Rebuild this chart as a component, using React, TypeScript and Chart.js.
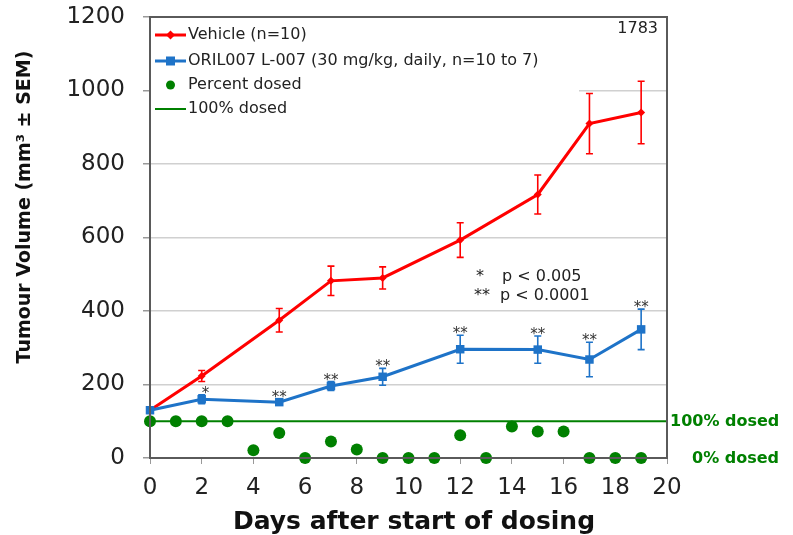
import { useEffect, useRef } from "react";
import { Chart, registerables } from "chart.js";

Chart.register(...registerables);

// ---- data ----
const days = [0, 2, 5, 7, 9, 12, 15, 17, 19];
const vehicle = [130, 223, 375, 482, 490, 593, 717, 910, 940];
const vehicleErr = [8, 15, 32, 40, 30, 47, 53, 82, 85];
const oril = [130, 160, 152, 196, 221, 296, 295, 268, 350];
const orilErr = [8, 12, 8, 12, 23, 38, 37, 47, 55];
const sigMarks = ["", "*", "**", "**", "**", "**", "**", "**", "**"];

const dosedDays = [0, 1, 2, 3, 4, 5, 6, 7, 8, 9, 10, 11, 12, 13, 14, 15, 16, 17, 18, 19];
const percentDosed = [100, 100, 100, 100, 21, 68, 0, 45, 23, 0, 0, 0, 62, 0, 86, 72, 72, 0, 0, 0];
const fullDoseLine = [100, 100];
const fullDoseDays = [0, 20];

const legendLabels = [
  "Vehicle (n=10)",
  "ORIL007 L-007 (30 mg/kg, daily, n=10 to 7)",
  "Percent dosed",
  "100% dosed",
];
const studyId = "1783";
const pNotes = ["*", "p < 0.005", "**", "p < 0.0001"];
const xTitle = "Days after start of dosing";
const yTitle = "Tumour Volume (mm³ ± SEM)";
const rightLabels = ["100% dosed", "0% dosed"];

const RED = "rgb(255,0,0)";
const BLUE = "rgb(30,115,200)";
const GREEN = "rgb(0,128,0)";
const FONT = "'DejaVu Sans', Verdana, sans-serif";

export default function App() {
  const ref = useRef<HTMLCanvasElement>(null);

  useEffect(() => {
    const canvas = ref.current!;

    const overlay = {
      id: "overlay",
      beforeDatasetsDraw(chart: any) {
        const ctx = chart.ctx as CanvasRenderingContext2D;
        const a = chart.chartArea;
        const xs = chart.scales.x;
        const ys = chart.scales.y;
        ctx.save();
        // legend background (hides grid)
        ctx.fillStyle = "#fff";
        ctx.fillRect(a.left + 1, a.top + 1, 428, 104);
        // error bars
        const drawErr = (vals: number[], errs: number[], color: string) => {
          ctx.strokeStyle = color;
          ctx.lineWidth = 1.6;
          vals.forEach((v, i) => {
            const x = xs.getPixelForValue(days[i]);
            const yt = ys.getPixelForValue(v + errs[i]);
            const yb = ys.getPixelForValue(v - errs[i]);
            ctx.beginPath();
            ctx.moveTo(x, yt);
            ctx.lineTo(x, yb);
            ctx.moveTo(x - 3.5, yt);
            ctx.lineTo(x + 3.5, yt);
            ctx.moveTo(x - 3.5, yb);
            ctx.lineTo(x + 3.5, yb);
            ctx.stroke();
          });
        };
        drawErr(vehicle, vehicleErr, RED);
        drawErr(oril, orilErr, BLUE);
        ctx.restore();
      },
      afterDraw(chart: any) {
        const ctx = chart.ctx as CanvasRenderingContext2D;
        const a = chart.chartArea;
        const xs = chart.scales.x;
        const ys = chart.scales.y;
        ctx.save();
        // plot frame
        ctx.strokeStyle = "#5a5a5a";
        ctx.lineWidth = 2;
        ctx.strokeRect(a.left, a.top, a.right - a.left, a.bottom - a.top);

        // legend
        const lx0 = a.left + 5;
        const lx1 = a.left + 36;
        const lmid = (lx0 + lx1) / 2;
        const rows = [35, 61, 85, 109];
        ctx.lineWidth = 3;
        ctx.strokeStyle = RED;
        ctx.beginPath();
        ctx.moveTo(lx0, rows[0]);
        ctx.lineTo(lx1, rows[0]);
        ctx.stroke();
        ctx.fillStyle = RED;
        ctx.beginPath();
        ctx.moveTo(lmid, rows[0] - 4.5);
        ctx.lineTo(lmid + 4.5, rows[0]);
        ctx.lineTo(lmid, rows[0] + 4.5);
        ctx.lineTo(lmid - 4.5, rows[0]);
        ctx.closePath();
        ctx.fill();
        ctx.strokeStyle = BLUE;
        ctx.beginPath();
        ctx.moveTo(lx0, rows[1]);
        ctx.lineTo(lx1, rows[1]);
        ctx.stroke();
        ctx.fillStyle = BLUE;
        ctx.fillRect(lmid - 4.5, rows[1] - 4.5, 9, 9);
        ctx.fillStyle = GREEN;
        ctx.beginPath();
        ctx.arc(lmid, rows[2], 4.5, 0, Math.PI * 2);
        ctx.fill();
        ctx.strokeStyle = GREEN;
        ctx.lineWidth = 2;
        ctx.beginPath();
        ctx.moveTo(lx0, rows[3]);
        ctx.lineTo(lx1, rows[3]);
        ctx.stroke();
        ctx.fillStyle = "#222";
        ctx.font = `16px ${FONT}`;
        ctx.textBaseline = "middle";
        ctx.textAlign = "left";
        legendLabels.forEach((t, i) => ctx.fillText(t, lx1 + 2, rows[i]));

        // study id
        ctx.textAlign = "right";
        ctx.fillText(studyId, a.right - 9, 29);

        // p-value notes
        ctx.textAlign = "left";
        ctx.fillText(pNotes[0], 476, 277);
        ctx.fillText(pNotes[1], 502, 277);
        ctx.fillText(pNotes[2], 474, 296);
        ctx.fillText(pNotes[3], 500, 296);

        // significance marks
        ctx.font = `15px ${FONT}`;
        ctx.fillStyle = "#333";
        ctx.textAlign = "right";
        ctx.textBaseline = "alphabetic";
        const w2 = ctx.measureText("**").width;
        sigMarks.forEach((m, i) => {
          if (!m) return;
          const x = xs.getPixelForValue(days[i]);
          const y = ys.getPixelForValue(oril[i] + orilErr[i]);
          ctx.fillText(m, x + w2 / 2, y + 3);
        });

        // right-side dose labels
        ctx.fillStyle = GREEN;
        ctx.font = `bold 16px ${FONT}`;
        ctx.textAlign = "left";
        ctx.textBaseline = "middle";
        ctx.fillText(rightLabels[0], a.right + 3, ys.getPixelForValue(100) + 1);
        ctx.fillText(rightLabels[1], a.right + 25, ys.getPixelForValue(0) + 1);

        // axis titles
        ctx.fillStyle = "#111";
        ctx.font = `bold 25px ${FONT}`;
        ctx.textAlign = "center";
        ctx.textBaseline = "middle";
        ctx.fillText(xTitle, 414, 522);
        ctx.save();
        ctx.translate(25, 207);
        ctx.rotate(-Math.PI / 2);
        ctx.font = `bold 19px ${FONT}`;
        ctx.fillText(yTitle, 0, 0);
        ctx.restore();

        ctx.restore();
      },
    };

    const chart = new Chart(canvas, {
      type: "line",
      data: {
        datasets: [
          {
            label: legendLabels[1],
            data: days.map((d, i) => ({ x: d, y: oril[i] })),
            borderColor: BLUE,
            backgroundColor: BLUE,
            borderWidth: 3,
            pointStyle: "rect",
            pointRadius: 6,
            pointBorderWidth: 0,
            order: 0,
            clip: false,
          },
          {
            label: legendLabels[0],
            data: days.map((d, i) => ({ x: d, y: vehicle[i] })),
            borderColor: RED,
            backgroundColor: RED,
            borderWidth: 3,
            pointStyle: "rectRot",
            pointRadius: 4,
            pointBorderWidth: 0,
            order: 1,
            clip: false,
          },
          {
            label: legendLabels[3],
            data: fullDoseDays.map((d, i) => ({ x: d, y: fullDoseLine[i] })),
            borderColor: GREEN,
            borderWidth: 2,
            pointRadius: 0,
            order: 2,
            clip: false,
          },
          {
            label: legendLabels[2],
            data: dosedDays.map((d, i) => ({ x: d, y: percentDosed[i] })),
            showLine: false,
            borderColor: GREEN,
            backgroundColor: GREEN,
            pointStyle: "circle",
            pointRadius: 6,
            pointBorderWidth: 0,
            order: 3,
            clip: false,
          },
        ],
      },
      options: {
        animation: false,
        responsive: false,
        devicePixelRatio: 1,
        layout: { padding: { top: 17, right: 126, left: 0, bottom: 0 } },
        plugins: {
          legend: { display: false },
          tooltip: { enabled: false },
          title: { display: false },
        },
        scales: {
          x: {
            type: "linear",
            min: 0,
            max: 20,
            afterFit: (s: any) => {
              s.height = 77;
            },
            ticks: {
              stepSize: 2,
              color: "#222",
              font: { family: FONT, size: 23 },
              padding: 10,
              maxRotation: 0,
            },
            grid: {
              drawOnChartArea: false,
              drawTicks: true,
              tickLength: 6,
              tickColor: "#999",
            },
            border: { display: false },
          },
          y: {
            min: 0,
            max: 1200,
            afterFit: (s: any) => {
              s.width = 150;
              s.paddingTop = 0;
              s.paddingBottom = 0;
            },
            ticks: {
              stepSize: 200,
              color: "#222",
              font: { family: FONT, size: 23 },
              padding: 18,
              callback: (v: any) => String(v),
            },
            grid: {
              color: "#d0d0d0",
              lineWidth: 1.5,
              tickLength: 7,
              tickColor: "#999",
            },
            border: { display: false },
          },
        },
      },
      plugins: [overlay],
    } as any);

    return () => chart.destroy();
  }, []);

  return (
    <div style={{ position: "fixed", left: 0, top: 0, width: 793, height: 535, background: "#fff" }}>
      <canvas ref={ref} width={793} height={535} style={{ display: "block" }} />
    </div>
  );
}
